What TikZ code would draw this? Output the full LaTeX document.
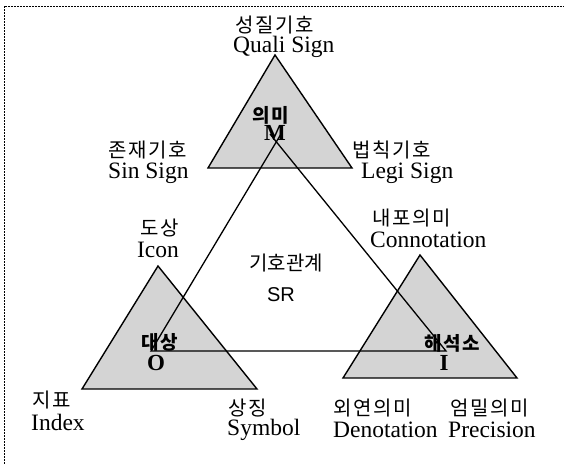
\documentclass[tikz,border=0pt]{standalone}
\usepackage{fontspec}
\setmainfont{Liberation Serif}
\setsansfont{Liberation Sans}
\newfontfamily\kr[LetterSpace=8]{Noto Sans CJK KR}
\newfontfamily\krg{Noto Sans CJK KR}
\begin{document}
\begin{tikzpicture}[x=1pt,y=-1pt,
  tri/.style={draw=black, line width=1.4pt, fill=black!17, line join=miter},
  rel/.style={draw=black, line width=1.3pt},
  frame/.style={draw=black, line width=0.7pt, dash pattern=on 1.6pt off 1.4pt},
  kor/.style={font=\kr\fontsize{20}{22}\selectfont, inner sep=0pt},
  korb/.style={font=\kr\bfseries\fontsize{19}{21}\selectfont, inner sep=0pt},
  lat/.style={font=\fontsize{23.5}{25}\selectfont, inner sep=0pt},
  latb/.style={font=\bfseries\fontsize{23}{25}\selectfont, inner sep=0pt},
  sr/.style={font=\krg\fontsize{20}{22}\selectfont, inner sep=0pt},
  srl/.style={font=\sffamily\fontsize{20}{22}\selectfont, inner sep=0pt}
]
\useasboundingbox (0,0) rectangle (564,464);
\draw[frame] (4,6) rectangle (640,540);

% triangle vertices
\coordinate (mA) at (275,55);
\coordinate (mL) at (208,168);
\coordinate (mR) at (352,168);
\coordinate (oA) at (158,266);
\coordinate (oL) at (82,389);
\coordinate (oR) at (257,389);
\coordinate (iA) at (420,255);
\coordinate (iL) at (343,378);
\coordinate (iR) at (517,378);

\draw[tri] (mA) -- (mL) -- (mR) -- cycle;
\draw[tri] (oA) -- (oL) -- (oR) -- cycle;
\draw[tri] (iA) -- (iL) -- (iR) -- cycle;

% sign relation triangle
\coordinate (M1) at (281,134);
\coordinate (M2) at (270,134);
\coordinate (O) at (151,351);
\coordinate (I) at (446,351);
\draw[rel] (M1) -- (O) -- (I) -- (M2);

% labels
\node[kor, anchor=west] (qk) at (235,25) {성질기호};
\node[lat, anchor=west] (qe) at (233,47) {Quali Sign};
\node[kor, anchor=west] (sk) at (108,150) {존재기호};
\node[lat, anchor=west] (se) at (108,173) {Sin Sign};
\node[kor, anchor=west] (lk) at (352,150) {법칙기호};
\node[lat, anchor=west] (le) at (361,173) {Legi Sign};
\node[kor] (ik) at (160,228) {도상};
\node[lat] (ie) at (158,250) {Icon};
\node[kor, anchor=west] (ck) at (372,218) {내포의미};
\node[lat, anchor=west] (ce) at (370,240) {Connotation};
\node[sr] (srk) at (286,263) {기호관계};
\node[srl] (sre) at (281,295) {SR};
\node[korb] (mk) at (271,115) {의미};
\node[latb] (me) at (275,133) {M};
\node[korb] (ok) at (160,342) {대상};
\node[latb] (oe) at (156,363) {O};
\node[korb] (hk) at (452,343) {해석소};
\node[latb] (he) at (444,363) {I};
\node[kor, anchor=west] (xk) at (32,400) {지표};
\node[lat, anchor=west] (xe) at (31,422) {Index};
\node[kor, anchor=west] (yk) at (228,408) {상징};
\node[lat, anchor=west] (ye) at (227,430) {Symbol};
\node[kor, anchor=west] (dk) at (333,408) {외연의미};
\node[lat, anchor=west] (de) at (333,430) {Denotation};
\node[kor, anchor=west] (pk) at (450,408) {엄밀의미};
\node[lat, anchor=west] (pe) at (448,430) {Precision};
\end{tikzpicture}
\end{document}
